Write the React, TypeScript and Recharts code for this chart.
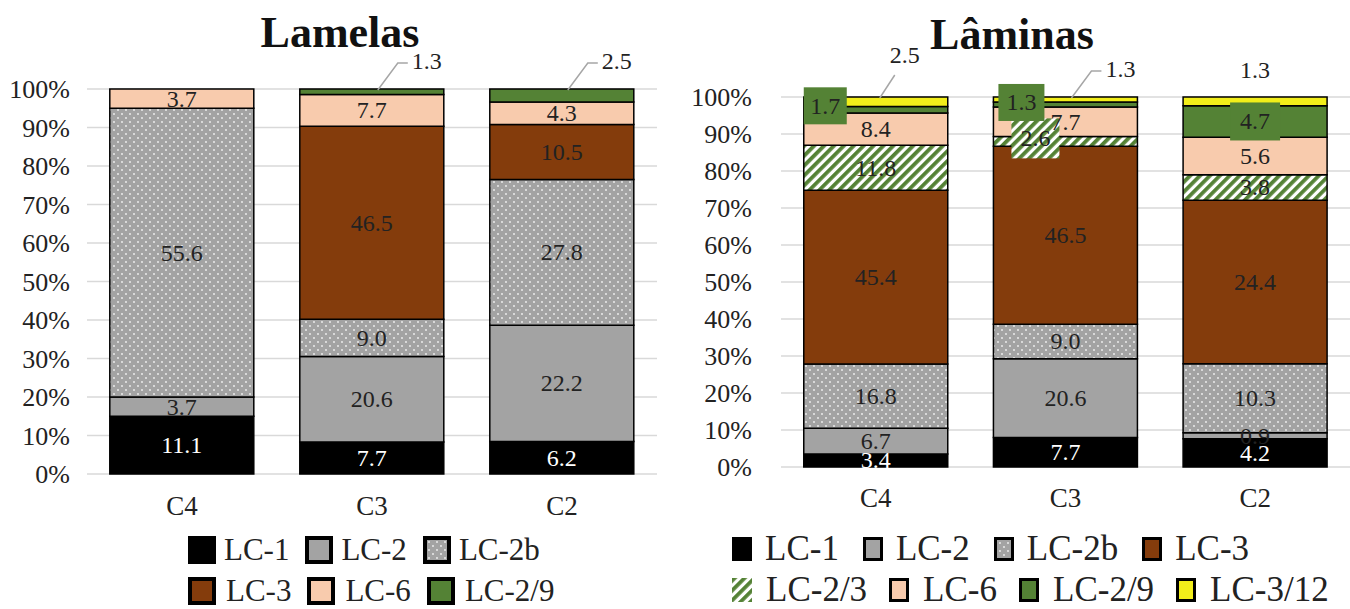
import React from "react";
import { BarChart, Bar, XAxis, YAxis, CartesianGrid, LabelList } from "recharts";

const categories = ["C4", "C3", "C2"];

// Lamelas
const lamelasLC1 = [11.1, 7.7, 6.2];
const lamelasLC2 = [3.7, 20.6, 22.2];
const lamelasLC2b = [55.6, 9.0, 27.8];
const lamelasLC3 = [0, 46.5, 10.5];
const lamelasLC6 = [3.7, 7.7, 4.3];
const lamelasLC29 = [0, 1.3, 2.5];

// Lâminas
const laminasLC1 = [3.4, 7.7, 4.2];
const laminasLC2 = [6.7, 20.6, 0.9];
const laminasLC2b = [16.8, 9.0, 10.3];
const laminasLC3 = [45.4, 46.5, 24.4];
const laminasLC23 = [11.8, 2.6, 3.8];
const laminasLC6 = [8.4, 7.7, 5.6];
const laminasLC29 = [1.7, 1.3, 4.7];
const laminasLC312 = [2.5, 1.3, 1.3];

const yTicks = [0, 0.1, 0.2, 0.3, 0.4, 0.5, 0.6, 0.7, 0.8, 0.9, 1];

const FONT = "'Liberation Serif', 'Times New Roman', Tinos, 'DejaVu Serif', serif";
const TEXT = "#222";

const COLORS = {
  lc1: "#000000",
  lc2: "#a3a3a3",
  lc2b: "url(#dots)",
  lc3: "#843c0c",
  lc23: "url(#hatch)",
  lc6: "#f8cbad",
  lc29: "#548235",
  lc312: "#f2ee1a",
};

function buildRows(series: Record<string, number[]>) {
  return categories.map((name, i) => {
    const row: Record<string, string | number> = { name };
    Object.keys(series).forEach((k) => (row[k] = series[k][i]));
    return row;
  });
}

const lamelasRows = buildRows({
  lc1: lamelasLC1,
  lc2: lamelasLC2,
  lc2b: lamelasLC2b,
  lc3: lamelasLC3,
  lc6: lamelasLC6,
  lc29: lamelasLC29,
});

const laminasRows = buildRows({
  lc1: laminasLC1,
  lc2: laminasLC2,
  lc2b: laminasLC2b,
  lc3: laminasLC3,
  lc23: laminasLC23,
  lc6: laminasLC6,
  lc29: laminasLC29,
  lc312: laminasLC312,
});

type LabelSpec =
  | { kind: "callout" }
  | { kind: "leader" }
  | { kind: "above" }
  | { kind: "box"; fill: string; w: number; h: number; align: "left" | "center"; dx: number; dy: number };

// labels that don't sit in the middle of their segment
const lamelasSpecs: Record<string, LabelSpec> = {
  "lc29:C3": { kind: "callout" },
  "lc29:C2": { kind: "callout" },
};

const laminasSpecs: Record<string, LabelSpec> = {
  "lc312:C4": { kind: "leader" },
  "lc312:C3": { kind: "callout" },
  "lc312:C2": { kind: "above" },
  "lc29:C4": { kind: "box", fill: COLORS.lc29, w: 43, h: 37, align: "left", dx: 0, dy: -4 },
  "lc29:C3": { kind: "box", fill: COLORS.lc29, w: 46, h: 37, align: "left", dx: 5, dy: -2 },
  "lc29:C2": { kind: "box", fill: COLORS.lc29, w: 50, h: 38, align: "center", dx: 0, dy: 0 },
  "lc23:C3": { kind: "box", fill: COLORS.lc23, w: 48, h: 40, align: "center", dx: -30, dy: -3 },
};

// plotLeft/band let a label find its category even when zero-height bars are skipped
function makeLabel(
  key: string,
  specs: Record<string, LabelSpec>,
  color: string,
  plotLeft: number,
  band: number
) {
  return (props: any) => {
    const vb = props.viewBox || {};
    const x = props.x ?? vb.x;
    const y = props.y ?? vb.y;
    const width = props.width ?? vb.width;
    const height = props.height ?? vb.height;
    const { value } = props;
    if (!value) return null;
    const txt = Number(value).toFixed(1);
    const cx = x + width / 2;
    const cy = y + height / 2;
    const ci = Math.max(0, Math.min(categories.length - 1, Math.floor((cx - plotLeft) / band)));
    const spec = specs[`${key}:${categories[ci]}`];
    const textProps = {
      fontFamily: FONT,
      fontSize: 24,
      fill: TEXT,
      dominantBaseline: "central" as const,
    };
    if (!spec) {
      return (
        <text x={cx} y={cy} textAnchor="middle" {...textProps} fill={color}>
          {txt}
        </text>
      );
    }
    if (spec.kind === "callout") {
      return (
        <g>
          <polyline
            points={`${cx + 6},${y + 1} ${cx + 26},${y - 26} ${cx + 36},${y - 26}`}
            fill="none"
            stroke="#a6a6a6"
            strokeWidth={1.5}
          />
          <text x={cx + 40} y={y - 28} textAnchor="start" {...textProps}>
            {txt}
          </text>
        </g>
      );
    }
    if (spec.kind === "leader") {
      return (
        <g>
          <line x1={cx + 4} y1={y + 1} x2={cx + 19} y2={y - 22} stroke="#a6a6a6" strokeWidth={1.5} />
          <text x={cx + 29} y={y - 42} textAnchor="middle" {...textProps}>
            {txt}
          </text>
        </g>
      );
    }
    if (spec.kind === "above") {
      return (
        <text x={cx} y={y - 27} textAnchor="middle" {...textProps}>
          {txt}
        </text>
      );
    }
    const bx = spec.align === "left" ? x + spec.dx : cx + spec.dx - spec.w / 2;
    const by = cy + spec.dy - spec.h / 2;
    return (
      <g>
        <rect x={bx} y={by} width={spec.w} height={spec.h} fill={spec.fill} />
        <text x={bx + spec.w / 2} y={by + spec.h / 2} textAnchor="middle" {...textProps}>
          {txt}
        </text>
      </g>
    );
  };
}

const pct = (v: number) => `${Math.round(v * 100)}%`;

type SeriesDef = { key: string; name: string };

const lamelasSeries: SeriesDef[] = [
  { key: "lc1", name: "LC-1" },
  { key: "lc2", name: "LC-2" },
  { key: "lc2b", name: "LC-2b" },
  { key: "lc3", name: "LC-3" },
  { key: "lc6", name: "LC-6" },
  { key: "lc29", name: "LC-2/9" },
];

const laminasSeries: SeriesDef[] = [
  { key: "lc1", name: "LC-1" },
  { key: "lc2", name: "LC-2" },
  { key: "lc2b", name: "LC-2b" },
  { key: "lc3", name: "LC-3" },
  { key: "lc23", name: "LC-2/3" },
  { key: "lc6", name: "LC-6" },
  { key: "lc29", name: "LC-2/9" },
  { key: "lc312", name: "LC-3/12" },
];

function StackChart({
  rows,
  series,
  specs,
  width,
  margin,
  yWidth,
  yTickMargin,
  xTickMargin,
}: {
  rows: any[];
  series: SeriesDef[];
  specs: Record<string, LabelSpec>;
  width: number;
  margin: { top: number; right: number; bottom: number; left: number };
  yWidth: number;
  yTickMargin: number;
  xTickMargin: number;
}) {
  const plotLeft = margin.left + yWidth;
  const band = (width - plotLeft - margin.right) / categories.length;
  return (
    <BarChart
      width={width}
      height={520}
      data={rows}
      stackOffset="expand"
      barCategoryGap="12%"
      margin={margin}
    >
      <CartesianGrid vertical={false} stroke="#d9d9d9" strokeWidth={1.5} />
      <XAxis
        dataKey="name"
        axisLine={false}
        tickLine={false}
        height={40}
        tickMargin={xTickMargin}
        tick={{ fontFamily: FONT, fontSize: 27, fill: TEXT }}
      />
      <YAxis
        domain={[0, 1]}
        ticks={yTicks}
        tickFormatter={pct}
        axisLine={false}
        tickLine={false}
        width={yWidth}
        tickMargin={yTickMargin}
        interval={0}
        tick={{ fontFamily: FONT, fontSize: 26, fill: TEXT }}
      />
      {series.map((s) => (
        <Bar
          key={s.key}
          dataKey={s.key}
          name={s.name}
          stackId="a"
          fill={COLORS[s.key as keyof typeof COLORS]}
          stroke="#000"
          strokeWidth={1.5}
          isAnimationActive={false}
        >
          <LabelList
            dataKey={s.key}
            content={makeLabel(s.key, specs, s.key === "lc1" ? "#fff" : TEXT, plotLeft, band)}
          />
        </Bar>
      ))}
    </BarChart>
  );
}

function Swatch({ k, w, h, border }: { k: string; w: number; h: number; border: number }) {
  const solid = k === "lc1" || k === "lc23";
  return (
    <svg width={w} height={h} style={{ display: "block" }}>
      <rect x={0} y={0} width={w} height={h} fill={solid ? COLORS[k as keyof typeof COLORS] : "#000"} />
      {!solid && (
        <rect
          x={border}
          y={border}
          width={w - 2 * border}
          height={h - 2 * border}
          fill={COLORS[k as keyof typeof COLORS]}
        />
      )}
    </svg>
  );
}

function LegendRow({
  items,
  left,
  top,
  w,
  h,
  border,
  gap,
  textGap,
  fontSize,
}: {
  items: SeriesDef[];
  left: number;
  top: number;
  w: number;
  h: number;
  border: number;
  gap: number;
  textGap: number;
  fontSize: number;
}) {
  return (
    <div
      style={{
        position: "absolute",
        left,
        top,
        display: "flex",
        alignItems: "center",
        gap,
        fontFamily: FONT,
        fontSize,
        color: TEXT,
        lineHeight: 1,
        whiteSpace: "nowrap",
      }}
    >
      {items.map((it) => (
        <div key={it.key} style={{ display: "flex", alignItems: "center", gap: textGap }}>
          <Swatch k={it.key} w={w} h={h} border={border} />
          <span>{it.name}</span>
        </div>
      ))}
    </div>
  );
}

export default function App() {
  return (
    <div
      style={{
        position: "absolute",
        left: 0,
        top: 0,
        width: 1350,
        height: 609,
        background: "#fff",
        overflow: "hidden",
      }}
    >
      <svg width={0} height={0} style={{ position: "absolute" }}>
        <defs>
          <pattern id="dots" width={8} height={8} patternUnits="userSpaceOnUse">
            <rect width={8} height={8} fill="#a3a3a3" />
            <circle cx={2} cy={2} r={0.9} fill="#f2f2f2" />
            <circle cx={6} cy={6} r={0.9} fill="#f2f2f2" />
          </pattern>
          <pattern
            id="hatch"
            width={7}
            height={7}
            patternUnits="userSpaceOnUse"
            patternTransform="rotate(45)"
          >
            <rect width={7} height={7} fill="#fff" />
            <rect width={3.8} height={7} fill="#548235" />
          </pattern>
        </defs>
      </svg>

      <div
        style={{
          position: "absolute",
          left: 240,
          width: 200,
          top: 8,
          textAlign: "center",
          fontFamily: FONT,
          fontWeight: "bold",
          fontSize: 44,
          lineHeight: "50px",
          color: "#111",
        }}
      >
        Lamelas
      </div>
      <div
        style={{
          position: "absolute",
          left: 912,
          width: 200,
          top: 10,
          textAlign: "center",
          fontFamily: FONT,
          fontWeight: "bold",
          fontSize: 44,
          lineHeight: "50px",
          color: "#111",
        }}
      >
        Lâminas
      </div>

      <div style={{ position: "absolute", left: 0, top: 0 }}>
        <StackChart
          rows={lamelasRows}
          series={lamelasSeries}
          specs={lamelasSpecs}
          width={680}
          margin={{ top: 89, right: 23, bottom: 6, left: 0 }}
          yWidth={87}
          yTickMargin={11}
          xTickMargin={16}
        />
      </div>
      <div style={{ position: "absolute", left: 680, top: 0 }}>
        <StackChart
          rows={laminasRows}
          series={laminasSeries}
          specs={laminasSpecs}
          width={670}
          margin={{ top: 97, right: 0, bottom: 13, left: 0 }}
          yWidth={101}
          yTickMargin={23}
          xTickMargin={15}
        />
      </div>

      <LegendRow items={lamelasSeries.slice(0, 3)} left={188} top={534} w={28} h={28} border={4} gap={16} textGap={8} fontSize={31} />
      <LegendRow items={lamelasSeries.slice(3)} left={188} top={575} w={28} h={28} border={4} gap={16} textGap={10} fontSize={31} />
      <LegendRow items={laminasSeries.slice(0, 4)} left={732} top={531} w={20} h={24} border={3} gap={24} textGap={13} fontSize={35} />
      <LegendRow items={laminasSeries.slice(4)} left={732} top={572} w={20} h={24} border={3} gap={22} textGap={14} fontSize={35} />
    </div>
  );
}
